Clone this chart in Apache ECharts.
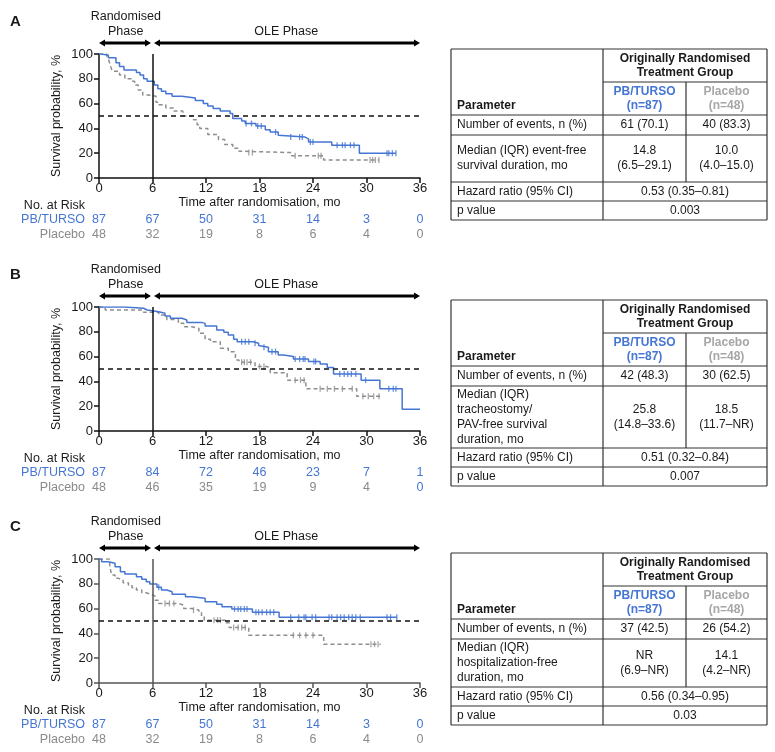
<!DOCTYPE html>
<html><head><meta charset="utf-8">
<script src="https://cdn.jsdelivr.net/npm/echarts/dist/echarts.min.js"></script>
<style>html,body{margin:0;padding:0;background:#fff}#c{width:775px;height:752px}</style>
</head><body><div id="c"></div>
<script>
// ---------------- DATA ----------------
const timeTicks = [0, 6, 12, 18, 24, 30, 36];

// Panel A – event-free survival
const A_pbTime = [0, 0.3, 1.05, 1.9, 2.3, 2.8, 4.2, 4.6, 5.0, 5.4, 6.2, 6.6, 7.0, 7.5, 8.2, 9.3, 10.8, 11.7, 12.2, 12.8, 13.6, 14.7, 15.0, 16.0, 16.4, 17.6, 18.65, 19.2, 20.1, 20.3, 23.1, 23.5, 26.1, 29.2, 33.3];
const A_pbSurv = [100, 99, 97, 93, 90, 87, 85, 83, 80, 78, 75, 72, 70, 68, 66, 64.5, 62.5, 60, 58, 56, 54, 52, 48, 46, 44, 42, 39, 37, 34.5, 33, 31.5, 29, 26.5, 20, 20];
const A_plTime = [0, 0.9, 1.1, 1.3, 1.5, 2.3, 2.9, 3.6, 4.0, 4.4, 4.9, 5.5, 6.4, 6.7, 7.5, 8.4, 9.4, 10.6, 11.0, 11.3, 12.2, 13.4, 14.1, 15.0, 15.7, 16.3, 21.6, 25.2, 31.4];
const A_plSurv = [100, 98, 95, 90, 86, 83, 80, 78, 75, 71, 67, 66, 61, 59, 56.5, 54, 50, 47, 43, 40, 35, 31, 27, 24, 21.5, 20.5, 18, 14.5, 14.5];
const A_pbCens = [16.5, 17.1, 17.8, 18.2, 19.8, 21.5, 22.5, 22.8, 23.7, 24.0, 26.7, 27.3, 27.6, 28.2, 28.6, 32.3, 32.5, 32.9, 33.3];
const A_plCens = [16.8, 17.2, 22.0, 24.6, 24.9, 30.4, 30.7, 31.0, 31.4];
const A_pbRisk = [87, 67, 50, 31, 14, 3, 0];
const A_plRisk = [48, 32, 19, 8, 6, 4, 0];

// Panel B – tracheostomy/PAV-free survival
const B_pbTime = [0, 2.9, 5.0, 5.4, 6.7, 7.4, 8.0, 9.3, 9.85, 11.5, 11.9, 13.2, 14.0, 14.5, 15.1, 15.5, 17.3, 17.9, 18.1, 19.0, 20.1, 20.7, 21.8, 23.5, 24.8, 25.6, 26.3, 29.4, 31.5, 34.0, 36.0];
const B_pbSurv = [100, 99, 97.6, 96.2, 95, 92.7, 90.9, 89.5, 87.6, 86.8, 84.7, 81.5, 79.6, 77.4, 74, 72, 70.7, 69, 67.5, 64, 61.3, 60, 58, 56, 54, 51.3, 46, 41, 34, 17.5, 17.5];
const B_plTime = [0, 0.7, 5.0, 6.7, 7.6, 8.9, 9.5, 10.4, 11.2, 11.9, 12.5, 13.6, 14.5, 15.3, 15.7, 17.5, 18.8, 19.2, 21.1, 23.2, 28.9, 31.7];
const B_plSurv = [100, 97.6, 95.7, 93.5, 90, 86.8, 84, 82.8, 78.8, 74, 72, 66.7, 64, 57.3, 55.5, 52, 51, 47, 41, 34, 28, 28];
const B_pbCens = [16.0, 16.4, 16.8, 17.5, 18.5, 19.4, 19.8, 22.0, 22.5, 22.9, 23.1, 24.1, 24.3, 27.0, 27.5, 27.9, 28.3, 28.8, 29.9, 32.5, 33.0, 33.3];
const B_plCens = [16.0, 16.3, 16.6, 17.0, 18.0, 18.5, 22.0, 22.6, 23.0, 24.8, 25.6, 26.4, 27.3, 28.4, 29.6, 30.2, 30.8, 31.4];
const B_pbRisk = [87, 84, 72, 46, 23, 7, 1];
const B_plRisk = [48, 46, 35, 19, 9, 4, 0];

// Panel C – hospitalization-free survival
const C_pbTime = [0, 0.3, 1.05, 1.8, 2.4, 2.9, 4.2, 4.8, 5.3, 5.7, 6.5, 7.0, 7.6, 8.2, 9.7, 10.4, 11.9, 13.2, 13.8, 14.9, 17.2, 20.2, 33.4];
const C_pbSurv = [100, 97.8, 96.5, 93.8, 89.8, 87.9, 85.7, 83.6, 81.7, 79.8, 77.2, 75, 73.6, 71.5, 69.6, 68.3, 65.6, 63.5, 61.5, 59.7, 57, 53, 53];
const C_plTime = [0, 1.2, 1.4, 1.8, 2.2, 2.7, 3.3, 3.7, 4.2, 4.8, 5.3, 5.9, 6.3, 6.7, 8.9, 9.5, 10.4, 11.2, 11.5, 11.8, 14.2, 14.6, 16.8, 25.2, 31.6];
const C_plSurv = [100, 95, 87, 84.4, 83, 80.9, 79, 76.8, 75, 72.8, 71.4, 70, 66.8, 64.2, 62.8, 60, 58.8, 56.6, 53.9, 50.7, 48.5, 44.7, 38.5, 31.3, 31.3];
const C_pbCens = [6.7, 15.2, 15.6, 15.9, 16.3, 16.6, 17.6, 17.9, 18.3, 18.8, 19.2, 19.6, 21.5, 22.4, 23.0, 23.2, 23.9, 24.3, 25.8, 26.1, 26.7, 27.1, 27.5, 28.0, 28.4, 28.8, 29.3, 32.3, 32.7, 33.4];
const C_plCens = [7.4, 7.9, 8.4, 10.6, 12.9, 13.3, 13.6, 15.1, 15.6, 16.0, 16.4, 21.8, 22.5, 23.2, 24.0, 30.5, 30.9, 31.3];
const C_pbRisk = [87, 67, 50, 31, 14, 3, 0];
const C_plRisk = [48, 32, 19, 8, 6, 4, 0];

// Tables
const tblHeads = ['Parameter', 'Originally Randomised\nTreatment Group', 'PB/TURSO\n(n=87)', 'Placebo\n(n=48)'];
const A_rowLabels = ['Number of events, n (%)', 'Median (IQR) event-free\nsurvival duration, mo', 'Hazard ratio (95% CI)', 'p value'];
const A_pbVals = ['61 (70.1)', '14.8\n(6.5–29.1)'];
const A_plVals = ['40 (83.3)', '10.0\n(4.0–15.0)'];
const A_mergedVals = ['0.53 (0.35–0.81)', '0.003'];
const B_rowLabels = ['Number of events, n (%)', 'Median (IQR)\ntracheostomy/\nPAV-free survival\nduration, mo', 'Hazard ratio (95% CI)', 'p value'];
const B_pbVals = ['42 (48.3)', '25.8\n(14.8–33.6)'];
const B_plVals = ['30 (62.5)', '18.5\n(11.7–NR)'];
const B_mergedVals = ['0.51 (0.32–0.84)', '0.007'];
const C_rowLabels = ['Number of events, n (%)', 'Median (IQR)\nhospitalization-free\nduration, mo', 'Hazard ratio (95% CI)', 'p value'];
const C_pbVals = ['37 (42.5)', 'NR\n(6.9–NR)'];
const C_plVals = ['26 (54.2)', '14.1\n(4.2–NR)'];
const C_mergedVals = ['0.56 (0.34–0.95)', '0.03'];

// ---------------- BUILD ----------------
const FONT = '"Liberation Sans", Arial, Helvetica, sans-serif';
const BLUE = '#4576d3', GREY = '#8e8e8e', GREY_TXT = '#8a8a8a', GREY_HEAD = '#a6a6a6', INK = '#111';

const panels = [
  {letter:'A', pbT:A_pbTime, pbS:A_pbSurv, plT:A_plTime, plS:A_plSurv, pbC:A_pbCens, plC:A_plCens, pbR:A_pbRisk, plR:A_plRisk, rows:A_rowLabels, pbV:A_pbVals, plV:A_plVals, mV:A_mergedVals},
  {letter:'B', pbT:B_pbTime, pbS:B_pbSurv, plT:B_plTime, plS:B_plSurv, pbC:B_pbCens, plC:B_plCens, pbR:B_pbRisk, plR:B_plRisk, rows:B_rowLabels, pbV:B_pbVals, plV:B_plVals, mV:B_mergedVals},
  {letter:'C', pbT:C_pbTime, pbS:C_pbSurv, plT:C_plTime, plS:C_plSurv, pbC:C_pbCens, plC:C_plCens, pbR:C_pbRisk, plR:C_plRisk, rows:C_rowLabels, pbV:C_pbVals, plV:C_plVals, mV:C_mergedVals}
];
const layout = [
  {top:54, tTop:49, r2h:47, axis:'#111', blueLastPl:false},
  {top:307, tTop:300, r2h:62, axis:'#111', blueLastPl:true},
  {top:559, tTop:553, r2h:48, axis:'#555', blueLastPl:false}
];

const zip = (t, s) => t.map((v, k) => [v, s[k]]);
const kmAt = (t, s, x) => { let v = s[0]; for (let k = 0; k < t.length; k++) { if (t[k] <= x) v = s[k]; else break; } return v; };

const grids = [], xAxes = [], yAxes = [], series = [];
panels.forEach((p, i) => {
  const L = layout[i];
  grids.push({left:99, width:321, top:L.top, height:124});
  xAxes.push({
    gridIndex:i, type:'value', min:0, max:36, interval:6,
    axisLine:{show:true, lineStyle:{color:L.axis, width:1.5}},
    axisTick:{show:true, length:5, lineStyle:{color:L.axis, width:1.5}},
    axisLabel:{fontSize:13, color:'#1a1a1a', margin:4, fontFamily:FONT},
    splitLine:{show:false},
    name:'Time after randomisation, mo', nameLocation:'middle', nameGap:17,
    nameTextStyle:{fontSize:12.5, color:'#1a1a1a', fontFamily:FONT}
  });
  yAxes.push({
    gridIndex:i, type:'value', min:0, max:100, interval:20,
    axisLine:{show:true, lineStyle:{color:L.axis, width:1.5}},
    axisTick:{show:true, length:5, lineStyle:{color:L.axis, width:1.5}},
    axisLabel:{fontSize:13, color:'#1a1a1a', margin:6, fontFamily:FONT},
    splitLine:{show:false},
    name:'Survival probability, %', nameLocation:'middle', nameGap:36, nameRotate:90,
    nameTextStyle:{fontSize:12.5, color:'#1a1a1a', fontFamily:FONT}
  });
  series.push({
    type:'line', xAxisIndex:i, yAxisIndex:i, step:'end', symbol:'none', showSymbol:false, silent:true, z:2,
    data:zip(p.plT, p.plS), lineStyle:{color:GREY, width:1.5, type:[4, 3]}
  });
  series.push({
    type:'line', xAxisIndex:i, yAxisIndex:i, step:'end', symbol:'none', showSymbol:false, silent:true, z:3,
    data:zip(p.pbT, p.pbS), lineStyle:{color:BLUE, width:1.5},
    markLine:{silent:true, symbol:['none','none'], label:{show:false}, animation:false,
      data:[
        {yAxis:50, lineStyle:{color:'#111', type:[5, 4], width:1.5}},
        {xAxis:6, lineStyle:{color:L.axis, type:'solid', width:1.5}}
      ]}
  });
  series.push({
    type:'scatter', xAxisIndex:i, yAxisIndex:i, silent:true, z:2, symbol:'rect', symbolSize:[1.3, 6],
    itemStyle:{color:GREY}, data:p.plC.map(x => [x, kmAt(p.plT, p.plS, x)])
  });
  series.push({
    type:'scatter', xAxisIndex:i, yAxisIndex:i, silent:true, z:3, symbol:'rect', symbolSize:[1.3, 6],
    itemStyle:{color:BLUE}, data:p.pbC.map(x => [x, kmAt(p.pbT, p.pbS, x)])
  });
});

const chart = echarts.init(document.getElementById('c'), null, {renderer:'canvas'});
chart.setOption({animation:false, backgroundColor:'#fff', grid:grids, xAxis:xAxes, yAxis:yAxes, series:series});

// ---------------- GRAPHICS (labels, arrows, at-risk rows, tables) ----------------
const G = [];
function txt(x, y, text, opt) {
  opt = opt || {};
  const st = {text:text, font:(opt.bold ? 'bold ' : '') + (opt.size || 12) + 'px ' + FONT, fill:opt.color || '#1a1a1a',
    align:opt.align || 'center', verticalAlign:'middle', textAlign:opt.align || 'center', textVerticalAlign:'middle'};
  if (opt.lh) st.lineHeight = opt.lh;
  G.push({type:'text', x:x, y:y, silent:true, style:st});
}
function seg(x1, y1, x2, y2, color, w) {
  G.push({type:'line', silent:true, shape:{x1:x1, y1:y1, x2:x2, y2:y2}, style:{stroke:color, lineWidth:w}});
}
function arrow(xa, xb, y) {
  seg(xa + 3, y, xb - 3, y, '#000', 3);
  G.push({type:'polygon', silent:true, shape:{points:[[xa, y], [xa + 6, y - 3.5], [xa + 6, y + 3.5]]}, style:{fill:'#000'}});
  G.push({type:'polygon', silent:true, shape:{points:[[xb, y], [xb - 6, y - 3.5], [xb - 6, y + 3.5]]}, style:{fill:'#000'}});
}

panels.forEach((p, i) => {
  const L = layout[i];
  const px = t => chart.convertToPixel({xAxisIndex:i}, t);
  txt(10, L.top - 32, p.letter, {bold:true, size:15, align:'left'});
  txt(px(3), L.top - 37, 'Randomised', {size:12.5});
  txt(px(3), L.top - 22, 'Phase', {size:12.5});
  txt(px(21), L.top - 22, 'OLE Phase', {size:12.5});
  arrow(px(0), px(6) - 1.5, L.top - 11);
  arrow(px(6) + 1.5, px(36), L.top - 11);
  // at-risk
  txt(85, L.top + 152, 'No. at Risk', {align:'right', size:12.5});
  txt(85, L.top + 166, 'PB/TURSO', {align:'right', size:12.5, color:BLUE});
  txt(85, L.top + 181, 'Placebo', {align:'right', size:12.5, color:GREY_TXT});
  timeTicks.forEach((t, k) => {
    txt(px(t), L.top + 166, String(p.pbR[k]), {size:12.5, color:BLUE});
    const c = (L.blueLastPl && k === timeTicks.length - 1) ? BLUE : GREY_TXT;
    txt(px(t), L.top + 181, String(p.plR[k]), {size:12.5, color:c});
  });
  // table
  const x0 = 451, x1 = 603, x2 = 686, x3 = 767;
  const hs = [33, 33, 20, L.r2h, 19, 19];
  const ys = [L.tTop];
  hs.forEach(h => ys.push(ys[ys.length - 1] + h));
  const lc = '#333', lw = 1.2;
  seg(x0, ys[0], x3, ys[0], lc, lw); seg(x0, ys[6], x3, ys[6], lc, lw);
  seg(x0, ys[0], x0, ys[6], lc, lw); seg(x3, ys[0], x3, ys[6], lc, lw);
  seg(x1, ys[1], x3, ys[1], lc, lw);
  for (let k = 2; k <= 5; k++) seg(x0, ys[k], x3, ys[k], lc, lw);
  seg(x1, ys[0], x1, ys[6], lc, lw);
  seg(x2, ys[1], x2, ys[4], lc, lw);
  txt(x0 + 6, ys[2] - 9, tblHeads[0], {bold:true, align:'left'});
  txt((x1 + x3) / 2, (ys[0] + ys[1]) / 2, tblHeads[1], {bold:true, lh:14});
  txt((x1 + x2) / 2, (ys[1] + ys[2]) / 2, tblHeads[2], {bold:true, lh:14, color:BLUE});
  txt((x2 + x3) / 2, (ys[1] + ys[2]) / 2, tblHeads[3], {bold:true, lh:14, color:GREY_HEAD});
  for (let r = 0; r < 4; r++) {
    const cy = (ys[r + 2] + ys[r + 3]) / 2;
    txt(x0 + 6, cy, p.rows[r], {align:'left', lh:15});
    if (r < 2) {
      txt((x1 + x2) / 2, cy, p.pbV[r], {lh:15});
      txt((x2 + x3) / 2, cy, p.plV[r], {lh:15});
    } else {
      txt((x1 + x3) / 2, cy, p.mV[r - 2], {});
    }
  }
});
chart.setOption({graphic:{elements:G}});
</script></body></html>
